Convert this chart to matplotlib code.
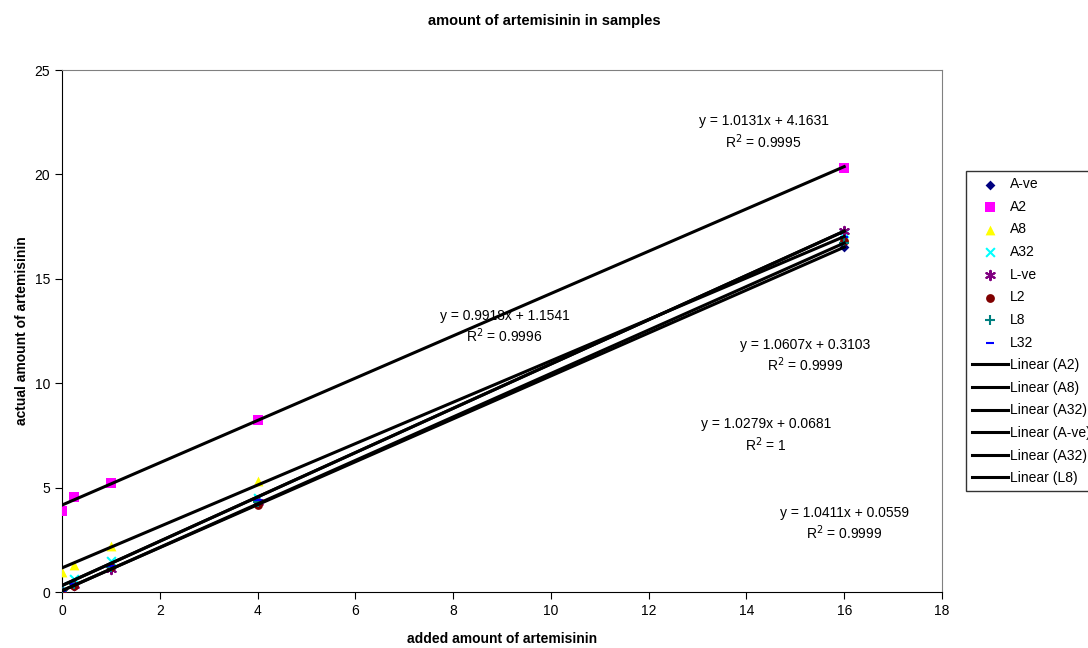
import matplotlib.pyplot as plt
import numpy as np

plt.rcParams['font.family'] = ['Liberation Sans', 'DejaVu Sans']

# added amounts (x) for every sample
added = [0, 0.25, 1, 4, 16]

a_ve = [0.0, 0.3, 1.15, 4.35, 16.5]
a2 = [3.9, 4.55, 5.2, 8.25, 20.3]
a8 = [0.95, 1.3, 2.2, 5.3, 17.0]
a32 = [0.3, 0.6, 1.5, 4.5, 17.2]
l_ve = [0.0, 0.35, 1.1, 4.3, 17.3]
l2 = [0.0, 0.3, 1.2, 4.15, 16.8]
l8 = [0.05, 0.4, 1.2, 4.3, 16.7]
l32 = [0.05, 0.4, 1.25, 4.4, 17.0]

series_names = ['A-ve', 'A2', 'A8', 'A32', 'L-ve', 'L2', 'L8', 'L32']
series_vals = [a_ve, a2, a8, a32, l_ve, l2, l8, l32]

# trendlines (slope, intercept) as printed on the chart
trend_names = ['Linear (A2)', 'Linear (A8)', 'Linear (A32)', 'Linear (A-ve)', 'Linear (A32)', 'Linear (L8)']
trend_slope = [1.0131, 0.9918, 1.0607, 1.0279, 1.0607, 1.0411]
trend_icept = [4.1631, 1.1541, 0.3103, 0.0681, 0.3103, 0.0559]
eq_text = ['y = 1.0131x + 4.1631\nR$^2$ = 0.9995',
           'y = 0.9918x + 1.1541\nR$^2$ = 0.9996',
           'y = 1.0607x + 0.3103\nR$^2$ = 0.9999',
           'y = 1.0279x + 0.0681\nR$^2$ = 1',
           'y = 1.0411x + 0.0559\nR$^2$ = 0.9999']
eq_pos = [(14.35, 22.0), (9.05, 12.7), (15.2, 11.3), (14.4, 7.5), (16.0, 3.25)]

styles = {
    'A-ve': dict(marker='D', color='#000080', s=25),
    'A2': dict(marker='s', color='#FF00FF', s=45),
    'A8': dict(marker='^', color='#FFFF00', s=50),
    'A32': dict(marker='x', color='#00FFFF', s=40),
    'L-ve': dict(marker=(6, 2, 0), color='#800080', s=45),
    'L2': dict(marker='o', color='#800000', s=40),
    'L8': dict(marker='+', color='#008080', s=50),
    'L32': dict(marker='_', color='#0000FF', s=40),
}

fig = plt.figure(figsize=(10.88, 6.48), dpi=100)
ax = fig.add_axes([62 / 1088, 1 - 592 / 648, 880 / 1088, 522 / 648])

x = np.array(added)
for name, vals in zip(series_names, series_vals):
    st = styles[name]
    lw = 1.5 if st['marker'] in ('x', '+', '_', (6, 2, 0)) else 0
    ax.scatter(x, vals, marker=st['marker'], c=st['color'], s=st['s'],
               linewidths=lw, label=name, zorder=3)

xs = np.array([0, 16])
for name, m, b in zip(trend_names, trend_slope, trend_icept):
    ax.plot(xs, m * xs + b, color='black', lw=2.2, label=name, zorder=4)

for t, (px, py) in zip(eq_text, eq_pos):
    ax.text(px, py, t, ha='center', va='center', fontsize=10, linespacing=1.25)

ax.set_xlim(0, 18)
ax.set_ylim(0, 25)
ax.set_xticks(range(0, 19, 2))
ax.set_yticks(range(0, 26, 5))
ax.tick_params(labelsize=10, direction='out', length=5)
ax.set_xlabel('added amount of artemisinin', fontsize=10, fontweight='bold', labelpad=10)
ax.set_ylabel('actual amount of artemisinin', fontsize=10, fontweight='bold', labelpad=4)
fig.suptitle('amount of artemisinin in samples', fontsize=10.5, fontweight='bold', y=0.978)

for side in ('top', 'right'):
    ax.spines[side].set_color('#808080')

leg = fig.legend(loc='upper left', bbox_to_anchor=(966 / 1088, 1 - 171 / 648),
                 fontsize=10, frameon=True, fancybox=False, edgecolor='black',
                 borderaxespad=0, handlelength=2.6, handletextpad=0.1,
                 labelspacing=0.62, borderpad=0.45, scatterpoints=1)
leg.get_frame().set_linewidth(1.0)

fig.savefig('out.png', dpi=100)
